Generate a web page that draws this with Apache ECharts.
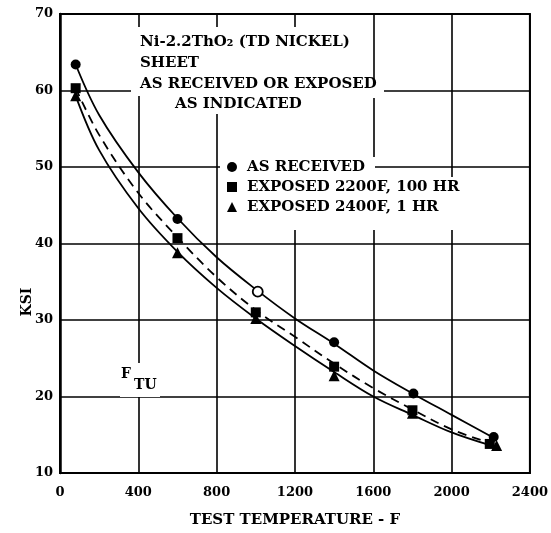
<!DOCTYPE html>
<html><head><meta charset="utf-8">
<script src="https://cdn.jsdelivr.net/npm/echarts@6/dist/echarts.min.js"></script>
<style>html,body{margin:0;padding:0;background:#fff}#c{width:551px;height:533px}</style>
</head><body><div id="c"></div>
<script>
// ---- data ----
const xTicks = [0, 400, 800, 1200, 1600, 2000, 2400];
const yTicks = [10, 20, 30, 40, 50, 60, 70];
const seriesNames = ['AS RECEIVED', 'EXPOSED 2200F, 100 HR', 'EXPOSED 2400F, 1 HR'];
const tempsReceived = [80, 600, 1010, 1400, 1805, 2215];
const ksiReceived   = [63.4, 43.2, 33.7, 27.1, 20.4, 14.7];
const tempsExp2200  = [80, 600, 1000, 1400, 1800, 2195];
const ksiExp2200    = [60.3, 40.7, 31.0, 23.9, 18.2, 13.8];
const tempsExp2400  = [80, 600, 1000, 1400, 1800, 2230];
const ksiExp2400    = [59.3, 38.8, 30.2, 22.7, 17.8, 13.6];
// faired curves
const fitTemps    = [80, 200, 400, 600, 800, 1000, 1200, 1400, 1600, 1800, 2000, 2200];
const fitReceived = [63.4, 56.8, 49.3, 43.3, 38.2, 34.0, 30.2, 26.9, 23.4, 20.4, 17.6, 14.8];
const fitExp2200  = [60.3, 54.2, 46.6, 40.8, 35.6, 31.3, 27.8, 24.3, 21.1, 18.3, 15.7, 13.9];
const fitExp2400  = [59.3, 52.2, 44.6, 38.9, 34.2, 30.2, 26.6, 23.2, 20.0, 17.6, 15.3, 13.6];
const openPointIndex = 2; // the open circle at ~1000 F
const annotationLines = ['Ni-2.2ThO\u2082 (TD NICKEL)', 'SHEET', 'AS RECEIVED OR EXPOSED', 'AS INDICATED'];

const font = 'DejaVu Serif';
const pts = (xs, ys) => xs.map((x, i) => [x, ys[i]]);
const chart = echarts.init(document.getElementById('c'), null, {renderer: 'canvas'});

const recData = pts(tempsReceived, ksiReceived).map((p, i) => i === openPointIndex
  ? {value: p, itemStyle: {color: '#fff', borderColor: '#000', borderWidth: 1.8}} : p);

const txt = (text, x, y, size, extra) => Object.assign({
  type: 'text', x: x, y: y, z: 10,
  style: {text: text, font: 'bold ' + size + 'px "' + font + '"', fill: '#000', align: 'left', verticalAlign: 'middle'}
}, extra || {});
const mask = (x, y, w, h) => ({type: 'rect', z: 3, silent: true, shape: {x: x, y: y, width: w, height: h}, style: {fill: '#fff'}});
const mark = {color: '#000', opacity: 1};

const option = {
  backgroundColor: '#fff',
  animation: false,
  grid: {left: 60, right: 18, top: 14, bottom: 50.5, show: true, borderColor: '#000', borderWidth: 2},
  xAxis: {
    type: 'value', min: xTicks[0], max: xTicks[xTicks.length - 1], interval: xTicks[1] - xTicks[0],
    axisLine: {show: true, lineStyle: {color: '#000', width: 2}},
    axisTick: {show: false},
    splitLine: {show: true, lineStyle: {color: '#000', width: 1.6}},
    axisLabel: {color: '#000', fontFamily: font, fontWeight: 'bold', fontSize: 13, margin: 13, formatter: v => String(v)},
    name: 'TEST TEMPERATURE - F', nameLocation: 'middle', nameGap: 40,
    nameTextStyle: {color: '#000', fontFamily: font, fontWeight: 'bold', fontSize: 15}
  },
  yAxis: {
    type: 'value', min: yTicks[0], max: yTicks[yTicks.length - 1], interval: yTicks[1] - yTicks[0],
    axisLine: {show: true, lineStyle: {color: '#000', width: 2.5}},
    axisTick: {show: false},
    splitLine: {show: true, lineStyle: {color: '#000', width: 1.6}},
    axisLabel: {color: '#000', fontFamily: font, fontWeight: 'bold', fontSize: 13, margin: 7, formatter: v => String(v)}
  },
  legend: {
    orient: 'vertical', left: 227, top: 157, padding: 0, itemGap: 0,
    itemWidth: 10, itemHeight: 10, z: 6,
    data: [{name: seriesNames[0], icon: 'circle'}, {name: seriesNames[1], icon: 'rect'}, {name: seriesNames[2], icon: 'triangle'}],
    itemStyle: {color: '#000', opacity: 1},
    textStyle: {color: '#000', fontFamily: font, fontWeight: 'bold', fontSize: 15, lineHeight: 20, padding: [0, 0, 0, 5]},
    selectedMode: false
  },
  series: [
    {name: 'fit-received', type: 'line', data: pts(fitTemps, fitReceived), smooth: 0.35, symbol: 'none', silent: true, z: 2,
      lineStyle: {color: '#000', width: 1.8}},
    {name: 'fit-2200', type: 'line', data: pts(fitTemps, fitExp2200), smooth: 0.35, symbol: 'none', silent: true, z: 2,
      lineStyle: {color: '#000', width: 1.8, type: [9, 6]}},
    {name: 'fit-2400', type: 'line', data: pts(fitTemps, fitExp2400), smooth: 0.35, symbol: 'none', silent: true, z: 2,
      lineStyle: {color: '#000', width: 1.8}},
    {name: seriesNames[0], type: 'scatter', data: recData, symbol: 'circle', symbolSize: 10, z: 4, itemStyle: mark},
    {name: seriesNames[1], type: 'scatter', data: pts(tempsExp2200, ksiExp2200), symbol: 'rect', symbolSize: 10, z: 4, itemStyle: mark},
    {name: seriesNames[2], type: 'scatter', data: pts(tempsExp2400, ksiExp2400), symbol: 'triangle', symbolSize: 11, z: 4, itemStyle: mark}
  ],
  graphic: [
    // paste-up areas that interrupt the grid
    mask(131, 27, 231, 49),
    mask(131, 76, 231, 20),
    mask(362, 84, 22, 14),
    mask(165, 96, 197, 18),
    mask(225, 114, 137, 43),
    mask(220, 157, 155, 20),
    mask(220, 177, 233, 53),
    mask(120, 363, 40, 34),
    txt(annotationLines[0], 140, 42, 15),
    txt(annotationLines[1], 140, 63, 15),
    txt(annotationLines[2], 140, 84, 15),
    txt(annotationLines[3], 175, 104, 15),
    txt('F', 121, 374, 14),
    txt('TU', 134, 385, 14),
    txt('KSI', 27, 302, 14, {rotation: Math.PI / 2, style: {text: 'KSI', font: 'bold 14px "' + font + '"', fill: '#000', align: 'center', verticalAlign: 'middle'}})
  ]
};
chart.setOption(option);
</script>
</body></html>
